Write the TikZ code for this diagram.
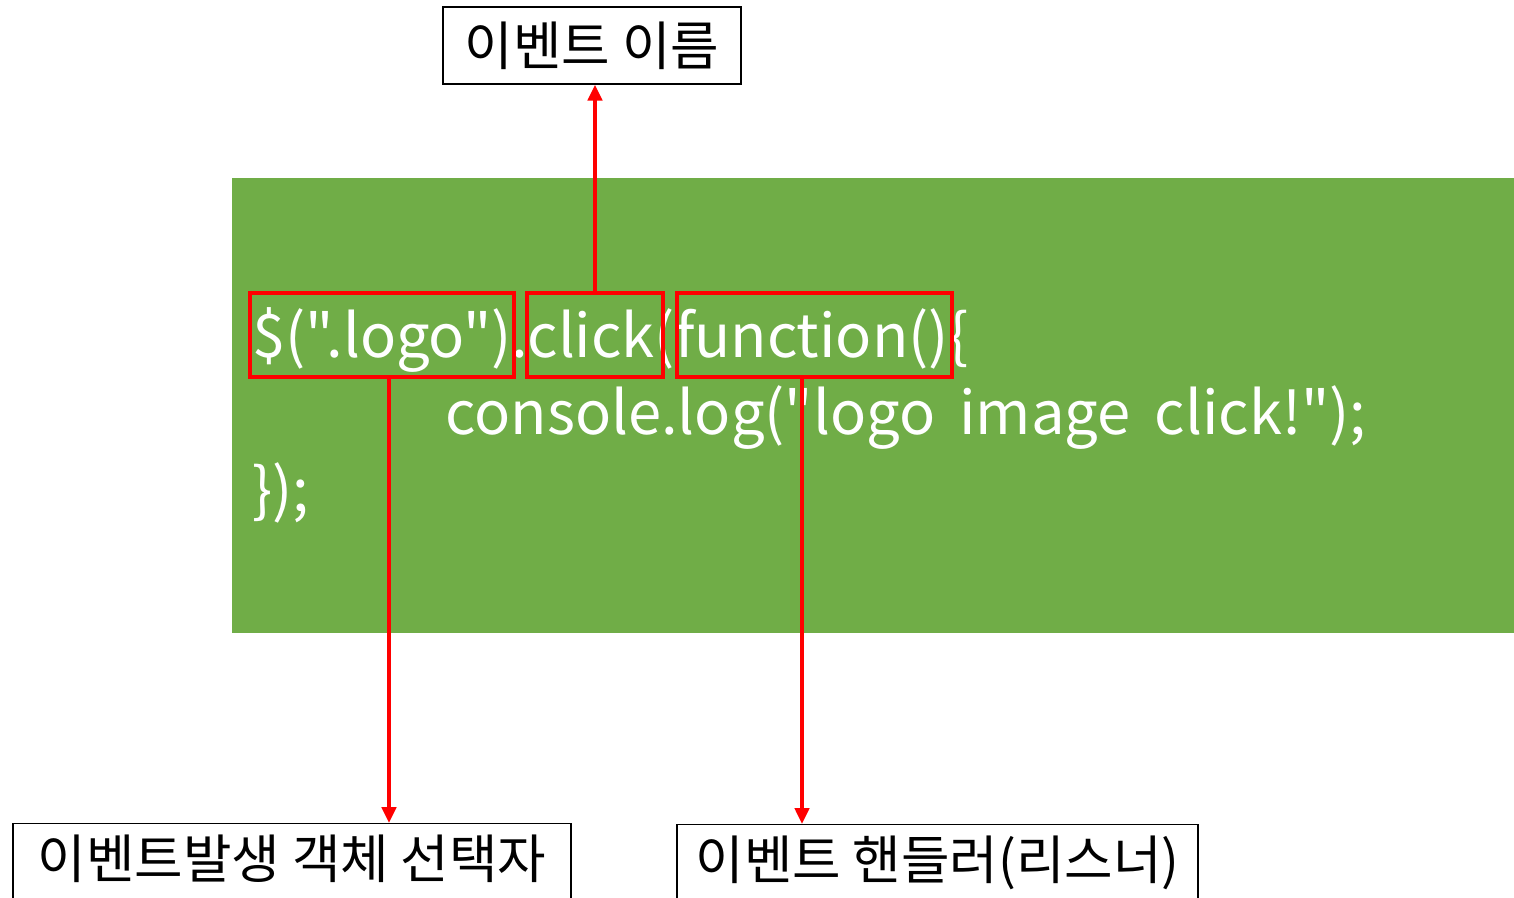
\documentclass[tikz,border=0pt]{standalone}
\usepackage{fontspec}
\setmainfont{Noto Sans CJK KR}
\newfontfamily\codefont[WordSpace=1.8]{Noto Sans CJK KR}
\usetikzlibrary{arrows.meta}
\definecolor{codegreen}{HTML}{70AD47}
\newcommand{\dq}{\symbol{34}}

\begin{document}
\begin{tikzpicture}[x=0.02cm,y=-0.02cm,
    redbox/.style={draw=red,line width=2.2pt,inner sep=0pt,minimum height=1.68cm},
    labelbox/.style={draw,line width=0.8pt,inner sep=0pt,font=\fontsize{30}{36}\selectfont},
    codeline/.style={text=white,inner sep=0pt,anchor=base west,font=\codefont\fontsize{34}{41}\selectfont},
    redarrow/.style={red,line width=2.2pt,-{Triangle[length=9pt,width=8pt]}}]
  \clip (0,0) rectangle (1514,897);
  % code area
  \fill[codegreen] (232,178) rectangle (1514,633);
  \node[codeline] (line1) at (252,357) {\$(\dq.logo\dq).click(function()\{};
  \node[codeline] (line2) at (445,434) {console.log(\dq logo image click!\dq);};
  \node[codeline] (line3) at (252,511) {\});};
  % parts of the call
  \node[redbox,minimum width=5.28cm] (selbox) at (382,335) {};
  \node[redbox,minimum width=2.72cm] (clickbox) at (595,335) {};
  \node[redbox,minimum width=5.5cm] (funcbox) at (814.5,335) {};
  % labels
  \node[labelbox,minimum width=5.96cm,minimum height=1.54cm] (evname) at (592,45.5) {이벤트 이름};
  \node[labelbox,anchor=north,minimum width=11.16cm,text height=1.1cm,text depth=1cm] (selector) at (292,823) {이벤트발생 객체 선택자};
  \node[labelbox,anchor=north,minimum width=10.42cm,text height=1.1cm,text depth=1cm] (handler) at (937.5,824) {이벤트 핸들러(리스너)};
  \draw[redarrow] (clickbox.north) -- (clickbox.north |- evname.south);
  \draw[redarrow] ([xshift=0.14cm]selbox.south) -- ([xshift=0.14cm]selbox.south |- selector.north);
  \draw[redarrow] ([xshift=-0.25cm]funcbox.south) -- ([xshift=-0.25cm]funcbox.south |- handler.north);
\end{tikzpicture}
\end{document}
